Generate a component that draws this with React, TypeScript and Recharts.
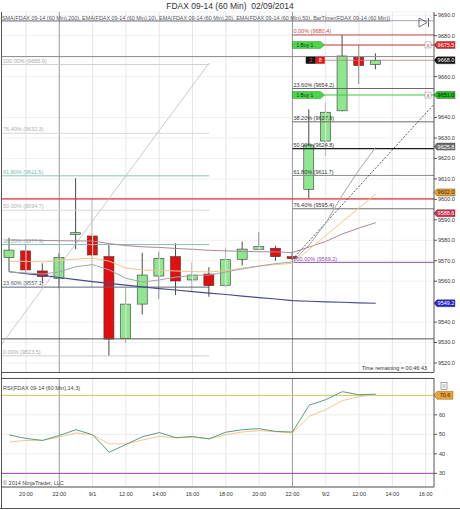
import { ComposedChart, Bar, Line, XAxis, YAxis, CartesianGrid, ReferenceLine } from 'recharts'

const FONT = '"Liberation Sans", Arial, sans-serif'

// hourly bars, 8/29 19:00 .. 9/2 13:00
const hours = [
  '19:00', '20:00', '21:00', '22:00', '09:00', '10:00', '11:00', '12:00',
  '13:00', '14:00', '15:00', '16:00', '17:00', '18:00', '19:00', '20:00',
  '21:00', '22:00', '09:00', '10:00', '11:00', '12:00', '13:00',
]
const openPx = [
  9571.5, 9574.8, 9565.0, 9561.4, 9582.9, 9582.1, 9572.0, 9532.1, 9548.8, 9562.5, 9572.0, 9560.6,
  9563.5, 9558.0, 9570.7, 9575.6, 9576.1, 9572.0, 9604.9, 9628.5, 9643.3, 9669.5, 9666.0,
]
const highPx = [
  9581.2, 9578.2, 9568.7, 9573.6, 9610.3, 9600.5, 9577.7, 9556.5, 9573.9, 9574.4, 9578.5, 9569.2,
  9566.8, 9576.4, 9579.3, 9583.9, 9577.3, 9574.4, 9644.0, 9647.3, 9680.4, 9675.5, 9671.4,
]
const lowPx = [
  9564.6, 9563.8, 9558.9, 9556.5, 9575.6, 9557.0, 9523.4, 9529.9, 9543.8, 9551.3, 9553.2, 9554.8,
  9552.4, 9557.1, 9567.6, 9575.3, 9570.0, 9570.3, 9600.5, 9621.2, 9643.0, 9656.4, 9663.6,
]
const closePx = [
  9575.2, 9565.5, 9562.2, 9571.5, 9583.7, 9572.8, 9531.7, 9548.8, 9563.0, 9571.2, 9560.1, 9563.0,
  9557.8, 9570.5, 9575.7, 9576.9, 9572.0, 9571.0, 9626.6, 9642.6, 9670.1, 9665.4, 9668.0,
]
const sma200 = [
  9564.6, 9563.7, 9562.8, 9561.8, 9560.8, 9559.8, 9558.9, 9558.1, 9557.2, 9556.4, 9555.7, 9554.9,
  9554.2, 9553.5, 9552.7, 9552.0, 9551.3, 9550.5, 9550.2, 9549.9, 9549.7, 9549.4, 9549.2,
]
const ema10 = [
  9564.5, 9564.0, 9563.5, 9564.5, 9567.1, 9568.1, 9565.5, 9561.4, 9559.6, 9560.6, 9562.0, 9562.8,
  9563.0, 9564.5, 9566.0, 9567.4, 9568.6, 9569.4, 9577.7, 9588.4, 9602.1, 9614.4, 9625.5,
]
const ema20 = [
  9569.7, 9569.7, 9569.4, 9570.1, 9570.8, 9571.3, 9569.8, 9566.4, 9565.5, 9565.2, 9565.0, 9564.7,
  9564.5, 9565.2, 9566.4, 9567.4, 9568.1, 9568.7, 9575.5, 9582.3, 9589.1, 9595.8, 9602.6,
]
const ema50 = [
  9580.1, 9580.0, 9579.9, 9579.8, 9579.7, 9579.6, 9578.4, 9577.4, 9576.8, 9576.5, 9576.0, 9575.6,
  9575.1, 9574.8, 9574.6, 9574.4, 9574.3, 9574.0, 9576.7, 9579.4, 9583.1, 9586.0, 9588.6,
]
const rsi = [
  49.7, 47.9, 46.9, 49.4, 52.4, 49.8, 40.8, 44.8, 48.8, 50.9, 48.3, 48.9,
  47.7, 51.1, 52.4, 52.9, 51.5, 51.2, 64.9, 67.8, 71.9, 70.3, 70.6,
]
const rsiAvg = [
  46.1, 46.9, 46.9, 48.7, 50.7, 49.8, 45.1, 45.1, 47.1, 49.0, 48.2, 48.5,
  47.6, 49.8, 51.2, 51.9, 51.4, 50.7, 59.2, 62.7, 67.3, 69.3, 70.4,
]

const tickSlots = [1, 3, 5, 7, 9, 11, 13, 15, 17, 19, 21, 23, 25]
const tickLabels = ['20:00', '22:00', '9/1', '12:00', '14:00', '16:00', '18:00', '20:00', '22:00', '9/2', '12:00', '14:00', '16:00']
const sessionSlots = [3, 17]
const priceTicks = [9520, 9530, 9540, 9560, 9570, 9580, 9590, 9600, 9610, 9620, 9630, 9640, 9660, 9680, 9690]
const rsiTicks = [30, 40, 50, 60]

const rightFibPct = ['0.00%', '23.60%', '38.20%', '50.00%', '61.80%', '76.40%', '100.00%']
const rightFibPrice = [9680.4, 9654.2, 9637.9, 9624.8, 9611.7, 9595.4, 9569.2]
const leftFibPct = ['100.00%', '76.40%', '61.80%', '50.00%', '38.20%', '23.60%', '0.00%']
const leftFibPrice = [9665.9, 9632.3, 9611.5, 9594.7, 9577.9, 9557.1, 9523.5]

const fullLines = [9669.8, 9600.2, 9531.8]
const leftDiag = [{ x: -0.5, y: 9528.8 }, { x: 12, y: 9666.7 }]
const trendRay = [{ x: 17, y: 9570.7 }, { x: 25.5, y: 9646.5 }]
const orderPrices = [9675.5, 9651.0]
const orderTag = '1 Buy 1'
const positionPrice = 9668.0
const positionQty = ['2', '8']

// where each price flag sits on the axis, and what it reads
const markerPrices = [9675.5, 9668.0, 9651.0, 9625.8, 9603.4, 9593.2, 9549.2]
const markerTexts = ['9675.5', '9668.0', '9651.0', '9625.8', '9602.0', '9588.6', '9549.2']
const rsiMarkerValue = 70.0
const rsiMarkerText = '70.6'

// styles
const rightFibColors = ['#c04848', '#6a6a6a', '#6a6a6a', '#1a1a1a', '#8a8a8a', '#707070', '#9050b0']
const leftFibColors = ['#cfcfcf', '#d6d6d6', '#84c6b8', '#d6d6d6', '#8cbab2', '#5a6478', '#cfcfcf']
const leftFibInk = ['#a8a8a8', '#b0b0b0', '#78bcae', '#b0b0b0', '#86b2aa', '#555b6a', '#a8a8a8']
const fullLineColors = ['#8a8a8a', '#e03030', '#555555']
const orderColors = ['#c83232', '#3cc83c']
const markerFill = ['#e02828', '#111111', '#22c322', '#6e6e6e', '#e8a23c', '#d42a4a', '#2323c8']
const markerInk = ['#ffffff', '#ffffff', '#002200', '#ffffff', '#3a2200', '#ffffff', '#ffffff']

const rows = hours.map((hour, i) => ({
  i,
  hour,
  open: openPx[i],
  high: highPx[i],
  low: lowPx[i],
  close: closePx[i],
  range: [lowPx[i], highPx[i]],
  sma200: sma200[i],
  ema10: ema10[i],
  ema20: ema20[i],
  ema50: ema50[i],
  rsi: rsi[i],
  rsiAvg: rsiAvg[i],
}))

function Candle(props: any) {
  const { x, y, width, height, payload } = props
  if (!payload || height == null) return null
  const top = Math.min(y, y + height)
  const span = Math.abs(height)
  const toY = (v: number) => top + ((payload.high - v) / (payload.high - payload.low)) * span
  const up = payload.close >= payload.open
  const bTop = toY(Math.max(payload.open, payload.close))
  const bBot = toY(Math.min(payload.open, payload.close))
  const cx = x + width / 2
  return (
    <g>
      <line x1={cx} x2={cx} y1={top} y2={top + span} stroke="#4a4a4a" strokeWidth={1} />
      <rect
        x={x}
        y={bTop}
        width={width}
        height={Math.max(bBot - bTop, 1)}
        fill={up ? '#8ee68e' : '#e30f0f'}
        stroke="#3a3a3a"
        strokeWidth={0.6}
      />
    </g>
  )
}

const rightFibLabel = (text: string, color: string) => (p: any) => (
  <text x={p.viewBox.x + 1} y={p.viewBox.y - 1.5} fontSize={5.5} fill={color}>
    {text}
  </text>
)

const leftFibLabel = (text: string, color: string) => (p: any) => (
  <text x={3} y={p.viewBox.y - 2} fontSize={5.5} fill={color}>
    {text}
  </text>
)

const priceMarker = (text: string, bg: string, ink: string) => (p: any) => {
  const x = p.viewBox.x + p.viewBox.width
  const y = p.viewBox.y
  return (
    <g>
      <polygon
        points={`${x},${y} ${x + 3},${y - 3.5} ${x + 21},${y - 3.5} ${x + 21},${y + 3.5} ${x + 3},${y + 3.5}`}
        fill={bg}
        stroke="#333"
        strokeWidth={0.4}
      />
      <text x={x + 12} y={y + 2} textAnchor="middle" fontSize={5.5} fill={ink}>
        {text}
      </text>
    </g>
  )
}

const orderLabel = (text: string) => (p: any) => {
  const x = p.viewBox.x
  const y = p.viewBox.y
  const end = p.viewBox.x + p.viewBox.width
  return (
    <g>
      <polygon
        points={`${x},${y - 3.5} ${x + 28},${y - 3.5} ${x + 32},${y} ${x + 28},${y + 3.5} ${x},${y + 3.5}`}
        fill="#4cd44c"
        stroke="#2a8a2a"
        strokeWidth={0.5}
      />
      <text x={x + 4} y={y + 2} fontSize={5} fill="#0a3a0a">
        {text}
      </text>
      <rect x={end - 9} y={y - 3} width={6} height={6} fill="#fff" stroke="#888" strokeWidth={0.5} />
      <text x={end - 6} y={y + 2} fontSize={5.5} textAnchor="middle" fill="#c02020">
        x
      </text>
    </g>
  )
}

const positionLabel = (p: any) => {
  const x = p.viewBox.x
  const y = p.viewBox.y
  return (
    <g>
      <rect x={x} y={y - 3.5} width={10} height={7} fill="#111" />
      <rect x={x + 10} y={y - 3.5} width={9} height={7} fill="#e01818" />
      <text x={x + 5} y={y + 2} fontSize={5.5} textAnchor="middle" fill="#ff5050">
        {positionQty[0]}
      </text>
      <text x={x + 14.5} y={y + 2} fontSize={5.5} textAnchor="middle" fill="#fff">
        {positionQty[1]}
      </text>
    </g>
  )
}

const rsiMarkerLabel = (p: any) => {
  const x = p.viewBox.x + p.viewBox.width
  const y = p.viewBox.y
  return (
    <g>
      <polygon
        points={`${x},${y} ${x + 3},${y - 4} ${x + 19},${y - 4} ${x + 19},${y + 4} ${x + 3},${y + 4}`}
        fill="#e8a23c"
        stroke="#7a5010"
        strokeWidth={0.4}
      />
      <text x={x + 11} y={y + 2} textAnchor="middle" fontSize={5.5} fill="#3a2200">
        {rsiMarkerText}
      </text>
    </g>
  )
}

const slotLabel = (v: number) => {
  const k = tickSlots.indexOf(v)
  return k >= 0 ? tickLabels[k] : ''
}

function App() {
  return (
    <div style={{ position: 'absolute', left: 0, top: 0, width: 460, height: 510, background: '#fff', fontFamily: FONT }}>
      <div style={{ position: 'absolute', left: 0, top: 0 }}>
        <ComposedChart width={460} height={374} data={rows} margin={{ top: 12, right: 0, bottom: 2, left: 1 }}>
          <CartesianGrid vertical={false} stroke="#f0f0f0" />
          <XAxis dataKey="i" type="number" domain={[-0.5, 25.5]} allowDataOverflow hide />
          <YAxis
            orientation="right"
            width={26}
            domain={[9515.6, 9691.6]}
            allowDataOverflow
            ticks={priceTicks}
            interval={0}
            tickFormatter={(v: number) => v.toFixed(1)}
            tick={{ fontSize: 5.5, fill: '#333' }}
            tickSize={3}
            tickMargin={1}
            stroke="#555"
          />
          {tickSlots.map((s) => (
            <ReferenceLine key={`v${s}`} x={s} stroke={sessionSlots.includes(s) ? '#9a9a9a' : '#e6e6e6'} />
          ))}
          {fullLines.map((v, k) => (
            <ReferenceLine key={`f${k}`} y={v} stroke={fullLineColors[k]} strokeWidth={k === 1 ? 1.2 : 1} />
          ))}
          {leftFibPrice.map((v, k) => (
            <ReferenceLine
              key={`lf${k}`}
              segment={[{ x: -0.5, y: v }, { x: 12, y: v }]}
              stroke={leftFibColors[k]}
              label={leftFibLabel(`${leftFibPct[k]} (${v.toFixed(1)})`, leftFibInk[k])}
            />
          ))}
          <ReferenceLine segment={leftDiag} stroke="#bdbdbd" strokeWidth={0.8} />
          {rightFibPrice.map((v, k) => (
            <ReferenceLine
              key={`rf${k}`}
              segment={[{ x: 17, y: v }, { x: 25.5, y: v }]}
              stroke={rightFibColors[k]}
              strokeWidth={k === 3 ? 1.3 : 1}
              label={rightFibLabel(`${rightFibPct[k]} (${v.toFixed(1)})`, k === 0 ? '#c04848' : k === 6 ? '#9050b0' : '#333')}
            />
          ))}
          <ReferenceLine segment={trendRay} stroke="#333" strokeWidth={0.8} strokeDasharray="2 1.5" />
          <Bar dataKey="range" barSize={10} shape={Candle} isAnimationActive={false} />
          <Line dataKey="sma200" stroke="#4a4a8c" strokeWidth={1.2} dot={false} isAnimationActive={false} />
          <Line dataKey="ema50" stroke="#a88898" strokeWidth={1} dot={false} isAnimationActive={false} />
          <Line dataKey="ema20" stroke="#f2c68a" strokeWidth={1} dot={false} isAnimationActive={false} />
          <Line dataKey="ema10" stroke="#a4a4ac" strokeWidth={1} dot={false} isAnimationActive={false} />
          {orderPrices.map((v, k) => (
            <ReferenceLine
              key={`o${k}`}
              segment={[{ x: 17, y: v }, { x: 25.5, y: v }]}
              stroke={orderColors[k]}
              strokeWidth={1.1}
              label={orderLabel(orderTag)}
            />
          ))}
          <ReferenceLine
            segment={[{ x: 17.8, y: positionPrice }, { x: 25.5, y: positionPrice }]}
            stroke="#b08080"
            strokeWidth={0.8}
            label={positionLabel}
          />
          {markerPrices.map((v, k) => (
            <ReferenceLine
              key={`m${k}`}
              y={v}
              stroke="none"
              label={priceMarker(markerTexts[k], markerFill[k], markerInk[k])}
            />
          ))}
        </ComposedChart>
      </div>
      <div style={{ position: 'absolute', left: 0, top: 375 }}>
        <ComposedChart width={460} height={133} data={rows} margin={{ top: 3, right: 0, bottom: 0, left: 1 }}>
          <CartesianGrid vertical={false} stroke="#ececec" />
          <XAxis
            dataKey="i"
            type="number"
            domain={[-0.5, 25.5]}
            allowDataOverflow
            ticks={tickSlots}
            interval={0}
            tickFormatter={slotLabel}
            tick={{ fontSize: 5.5, fill: '#333' }}
            tickLine={false}
            tickSize={2}
            tickMargin={3}
            height={21}
            stroke="#555"
          />
          <YAxis
            orientation="right"
            width={26}
            domain={[23, 78.9]}
            allowDataOverflow
            ticks={rsiTicks}
            interval={0}
            tick={{ fontSize: 5.5, fill: '#333' }}
            tickSize={3}
            tickMargin={2}
            stroke="#555"
          />
          {tickSlots.map((s) => (
            <ReferenceLine key={`rv${s}`} x={s} stroke={sessionSlots.includes(s) ? '#9a9a9a' : '#e6e6e6'} />
          ))}
          <ReferenceLine y={70} stroke="#c8c850" />
          <ReferenceLine y={30} stroke="#a040b0" />
          <Line dataKey="rsiAvg" stroke="#f0c890" strokeWidth={1} dot={false} isAnimationActive={false} />
          <Line dataKey="rsi" stroke="#5f9a80" strokeWidth={1} dot={false} isAnimationActive={false} />
          <ReferenceLine y={rsiMarkerValue} stroke="none" label={rsiMarkerLabel} />
        </ComposedChart>
      </div>
      <svg width={460} height={510} style={{ position: 'absolute', left: 0, top: 0, pointerEvents: 'none' }}>
        <text x={230} y={9} textAnchor="middle" fontSize={8.5} fill="#333">
          {'FDAX 09-14 (60 Min)\u00a0\u00a002/09/2014'}
        </text>
        <text x={2} y={19.8} fontSize={5.3} fill="#555" textLength={388} lengthAdjust="spacingAndGlyphs" textDecoration="underline">
          SMA(FDAX 09-14 (60 Min),200), EMA(FDAX 09-14 (60 Min),10), EMA(FDAX 09-14 (60 Min),20), EMA(FDAX 09-14 (60 Min),50), BarTimer(FDAX 09-14 (60 Min))
        </text>
        <line x1={1} x2={434} y1={20.7} y2={20.7} stroke="#8a8aa8" strokeWidth={0.8} />
        <line x1={1.5} x2={1.5} y1={12} y2={509} stroke="#555" strokeWidth={1} />
        <line x1={1} x2={434} y1={372.5} y2={372.5} stroke="#555" strokeWidth={1} />
        <line x1={1} x2={434} y1={378.5} y2={378.5} stroke="#555" strokeWidth={1} />
        <line x1={0} x2={460} y1={508.5} y2={508.5} stroke="#555" strokeWidth={1} />
        <polygon points="419,18 427,22.5 419,27" fill="none" stroke="#555" strokeWidth={0.8} />
        <line x1={428.5} x2={428.5} y1={18} y2={27} stroke="#555" strokeWidth={0.9} />
        <text x={427} y={370} textAnchor="end" fontSize={5.5} fill="#333">
          Time remaining = 00:46:43
        </text>
        <text x={3} y={390} fontSize={5.5} fill="#444">
          RSI(FDAX 09-14 (60 Min),14,3)
        </text>
        <text x={3} y={485} fontSize={5.5} fill="#444">
          © 2014 NinjaTrader, LLC
        </text>
        <rect x={441} y={382.5} width={6} height={7} fill="#fff" stroke="#666" strokeWidth={0.6} />
        <line x1={442.5} x2={445.5} y1={385} y2={385} stroke="#666" strokeWidth={0.6} />
        <line x1={442.5} x2={445.5} y1={387} y2={387} stroke="#666" strokeWidth={0.6} />
      </svg>
    </div>
  )
}

export default App
